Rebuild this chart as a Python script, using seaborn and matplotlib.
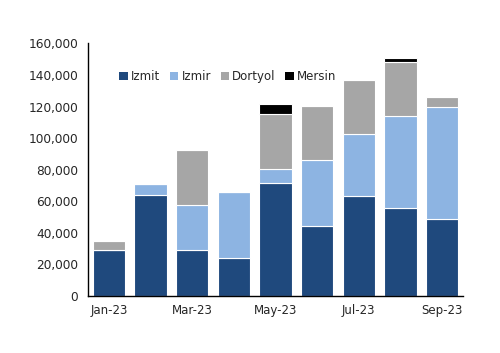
import matplotlib
matplotlib.use("Agg")
import matplotlib.pyplot as plt
import seaborn as sns
import numpy as np
from matplotlib.patches import Patch
from matplotlib.ticker import FuncFormatter

months = ["Jan-23", "Feb-23", "Mar-23", "Apr-23", "May-23", "Jun-23", "Jul-23", "Aug-23", "Sep-23"]
izmit = [28800, 63600, 29000, 24100, 71300, 44400, 63000, 55800, 48600]
izmir = [0, 7000, 28500, 42000, 9000, 41700, 39700, 58300, 71100]
dortyol = [6100, 0, 34700, 0, 35000, 34100, 34100, 33900, 6500]
mersin = [0, 0, 0, 0, 6000, 0, 0, 2700, 0]

series_names = ["Izmit", "Izmir", "Dortyol", "Mersin"]
series_vals = [izmit, izmir, dortyol, mersin]
colors = ["#1F497D", "#8DB4E2", "#A6A6A6", "#000000"]

sns.set_style("white")
plt.rcParams['font.family'] = ['DejaVu Sans']

fig = plt.figure(figsize=(5.0, 3.53), dpi=100)
ax = fig.add_axes([0.176, 0.162, 0.75, 0.715])

bottom = np.zeros(len(months))
for name, vals, c in zip(series_names, series_vals, colors):
    sns.barplot(x=months, y=vals, bottom=bottom, color=c, width=0.77,
                edgecolor="white", linewidth=0.8, ax=ax, saturation=1)
    bottom = bottom + np.array(vals)

ax.set_ylim(0, 160000)
ax.set_xlim(-0.5, len(months) - 0.5)
ax.set_yticks(np.arange(0, 160001, 20000))
ax.yaxis.set_major_formatter(FuncFormatter(lambda v, p: f"{int(v):,}"))
ax.set_xticks(range(0, len(months), 2))
ax.set_xticklabels(months[::2])
ax.set_xticks([-0.5, 1.5, 3.5, 5.5, 7.5], minor=True)
ax.tick_params(axis="x", which="major", length=0, pad=6, labelsize=8.5)
ax.tick_params(axis="x", which="minor", length=3, width=0.8, direction="out", color="black")
ax.tick_params(axis="y", which="major", length=4, width=0.8, direction="out", color="black", labelsize=8.7, pad=3)
ax.set_xlabel("")
ax.set_ylabel("")

for s in ["top", "right"]:
    ax.spines[s].set_visible(False)
for s in ["left", "bottom"]:
    ax.spines[s].set_color("black")
    ax.spines[s].set_linewidth(1.0)

handles = [Patch(facecolor=c, edgecolor="none") for c in colors]
ax.legend(handles, series_names, ncol=4, frameon=False, loc="center",
          bbox_to_anchor=(0.373, 0.868), handlelength=0.7, handleheight=0.7,
          handletextpad=0.3, columnspacing=0.8, fontsize=8.5)

fig.savefig("out.png", dpi=100)
